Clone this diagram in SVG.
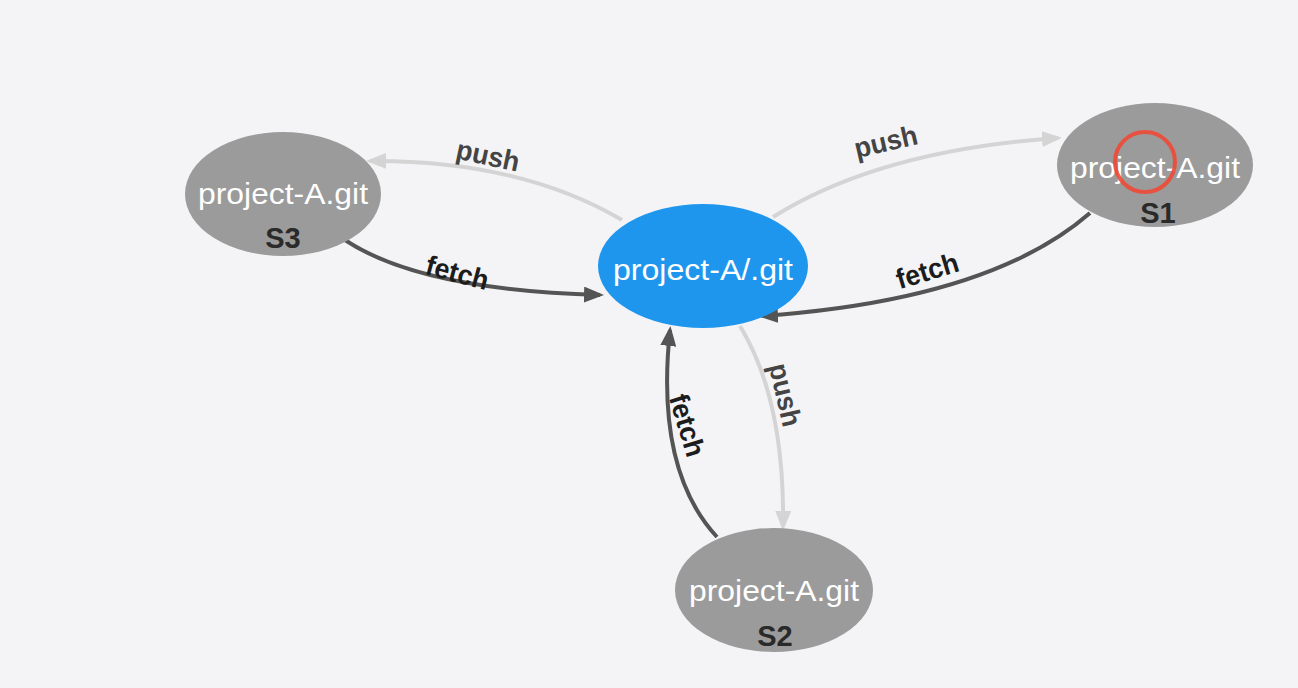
<svg xmlns="http://www.w3.org/2000/svg" width="1298" height="688" viewBox="0 0 1298 688">
  <style>
    .gray { fill: #9b9b9b; }
    .blue { fill: #1f96ee; }
    .ntext { font-family: "Liberation Sans", Arial, sans-serif; font-size: 30px; fill: #ffffff; text-anchor: middle; }
    .sid { font-family: "Liberation Sans", Arial, sans-serif; font-size: 29px; font-weight: bold; fill: #2a2a2a; text-anchor: middle; }
    .push { fill: none; stroke: #d4d4d4; stroke-width: 4; }
    .fetch { fill: none; stroke: #545454; stroke-width: 4; }
    .lpush { font-family: "Liberation Sans", Arial, sans-serif; font-size: 28px; font-weight: bold; fill: #444444; text-anchor: middle; }
    .lfetch { font-family: "Liberation Sans", Arial, sans-serif; font-size: 28px; font-weight: bold; fill: #1c1c1c; text-anchor: middle; }
  </style>
  <defs>
    <marker id="ahPush" markerUnits="userSpaceOnUse" markerWidth="20" markerHeight="16" refX="16" refY="8" orient="auto">
      <path d="M0,0 L20,8 L0,16 z" fill="#d4d4d4"/>
    </marker>
    <marker id="ahFetch" markerUnits="userSpaceOnUse" markerWidth="20" markerHeight="16" refX="16" refY="8" orient="auto">
      <path d="M0,0 L20,8 L0,16 z" fill="#545454"/>
    </marker>
  </defs>
  <rect width="1298" height="688" fill="#f4f4f6"/>

  <g id="connectors">
    <path class="push" d="M 622 220 Q 520 160 370 161" marker-end="url(#ahPush)"/>
    <path class="fetch" d="M 345 240 Q 420 290 600 295" marker-end="url(#ahFetch)"/>
    <path class="push" d="M 773 217 Q 880 150 1058 138" marker-end="url(#ahPush)"/>
    <path class="fetch" d="M 1090 213 Q 990 300 762 316" marker-end="url(#ahFetch)"/>
    <path class="push" d="M 740 326 Q 785 400 783 527" marker-end="url(#ahPush)"/>
    <path class="fetch" d="M 717 537 Q 655 470 670 330" marker-end="url(#ahFetch)"/>
    <text class="lpush" transform="translate(486,165) rotate(12)" textLength="64" lengthAdjust="spacingAndGlyphs">push</text>
    <text class="lfetch" transform="translate(455,282) rotate(15)" textLength="64" lengthAdjust="spacingAndGlyphs">fetch</text>
    <text class="lpush" transform="translate(888,151) rotate(-13)" textLength="64" lengthAdjust="spacingAndGlyphs">push</text>
    <text class="lfetch" transform="translate(930,280) rotate(-17)" textLength="64" lengthAdjust="spacingAndGlyphs">fetch</text>
    <text class="lpush" transform="translate(776,397) rotate(77)" textLength="64" lengthAdjust="spacingAndGlyphs">push</text>
    <text class="lfetch" transform="translate(678,428) rotate(73)" textLength="64" lengthAdjust="spacingAndGlyphs">fetch</text>
  </g>

  <g id="center">
    <ellipse class="blue" cx="703" cy="266" rx="105" ry="62"/>
    <text class="ntext" x="703" y="280" textLength="180" lengthAdjust="spacingAndGlyphs">project-A/.git</text>
  </g>

  <g id="S1">
    <ellipse class="gray" cx="1155" cy="165" rx="98" ry="62"/>
    <text class="ntext" x="1155" y="178" textLength="170" lengthAdjust="spacingAndGlyphs">project-A.git</text>
    <text class="sid" x="1158" y="223">S1</text>
    <circle cx="1145" cy="162" r="30" fill="none" stroke="#f04a36" stroke-width="4" opacity="0.9"/>
  </g>

  <g id="S3">
    <ellipse class="gray" cx="283" cy="194" rx="98" ry="62"/>
    <text class="ntext" x="283" y="204" textLength="170" lengthAdjust="spacingAndGlyphs">project-A.git</text>
    <text class="sid" x="283" y="248">S3</text>
  </g>

  <g id="S2">
    <ellipse class="gray" cx="774" cy="590" rx="99" ry="62"/>
    <text class="ntext" x="774" y="601" textLength="170" lengthAdjust="spacingAndGlyphs">project-A.git</text>
    <text class="sid" x="775" y="646">S2</text>
  </g>
</svg>
